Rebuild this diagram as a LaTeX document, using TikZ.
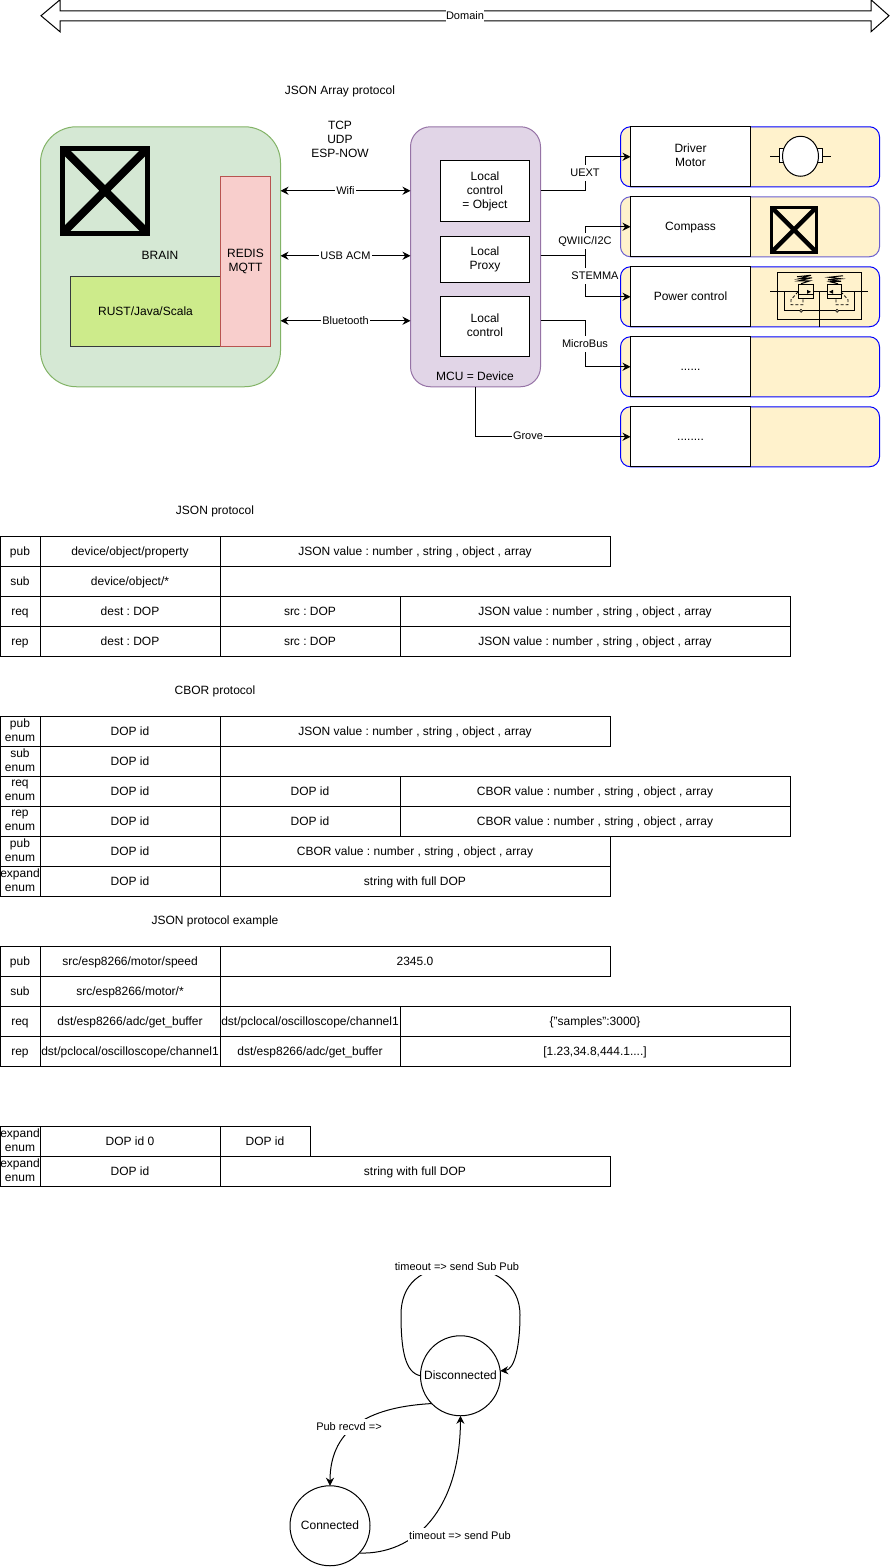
\documentclass[tikz,border=0pt]{standalone}
\usepackage{fontspec}
\setmainfont{Liberation Sans}
\usetikzlibrary{arrows.meta}
\definecolor{brainfill}{HTML}{D5E8D4}
\definecolor{braindraw}{HTML}{82B366}
\definecolor{redisfill}{HTML}{F8CECC}
\definecolor{redisdraw}{HTML}{B85450}
\definecolor{rustfill}{HTML}{CDEB8B}
\definecolor{rustdraw}{HTML}{36393D}
\definecolor{mcufill}{HTML}{E1D5E7}
\definecolor{mcudraw}{HTML}{9673A6}
\definecolor{modfill}{HTML}{FFF2CC}
\definecolor{compassdraw}{HTML}{6A5FD0}
\newcommand{\linestrut}{\vrule width 0pt height 11pt depth 3pt\relax}
\frenchspacing
\tikzset{
        every node/.style={font=\fontsize{12}{14}\selectfont, inner sep=0pt, outer sep=0pt, align=center, execute at begin node=\linestrut, execute at end node=\linestrut},
        cell/.style={draw, anchor=north west, minimum height=30, minimum width=#1},
        modbg/.style={draw=blue, fill=modfill, rounded corners=10, anchor=north west, minimum width=259, minimum height=60},
        modbox/.style={draw, fill=white, anchor=north west, minimum width=120, minimum height=60},
        localbox/.style={draw, fill=white, anchor=north west, minimum width=89},
        lbl/.style={fill=white, inner sep=1pt, font=\fontsize{11}{13}\selectfont},
        wire/.style={-{Stealth[length=8pt,width=8pt]}},
        wires/.style={{Stealth[length=8pt,width=8pt]}-{Stealth[length=8pt,width=8pt]}},
        state/.style={draw, circle, minimum size=80}
}
\begin{document}
\begin{tikzpicture}[x=1pt, y=-1pt, line width=1pt]
        \useasboundingbox (0,0.25) rectangle (891,1567.25);
        \draw (60,11) -- (60,0) -- (41,16) -- (60,32) -- (60,21) -- (871,21) -- (871,32) -- (889,16) -- (871,0) -- (871,11) -- cycle;
        \node[lbl, inner sep=0pt] (domain) at (465,16) {Domain};

        \node (arrayTitle) at (340,91) {JSON Array protocol};
        \node (transports) at (340,141) {TCP\\UDP\\ESP-NOW};

        \node[draw=braindraw, fill=brainfill, rounded corners=36, anchor=north west, minimum width=240, minimum height=260] (brain) at (40.5,127) {};
        \node (brainText) at (160,256) {BRAIN};
        \begin{scope}
                \clip (61,147) rectangle (149,235);
                \draw[line width=8pt] (60,146) -- (150,236) (150,146) -- (60,236);
        \end{scope}
        \draw[line width=5pt] (62.5,148.5) rectangle (147.5,233.5);
        \node[draw=rustdraw, fill=rustfill, anchor=north west, minimum width=150, minimum height=70] (rust) at (70.5,277) {RUST/Java/Scala};
        \node[draw=redisdraw, fill=redisfill, anchor=north west, minimum width=50, minimum height=170] (redis) at (220.5,177) {REDIS\\MQTT};

        \node[draw=mcudraw, fill=mcufill, rounded corners=20, anchor=north west, minimum width=130, minimum height=260] (mcu) at (410.5,127) {};
        \node (mcuText) at (475,377) {MCU = Device};
        \node[localbox, minimum height=61] (localObject) at (440.5,161) {Local\\control\\= Object};
        \node[localbox, minimum height=46] (localProxy) at (440.5,237) {Local\\Proxy};
        \node[localbox, minimum height=60] (localControl) at (440.5,297) {Local\\control};

        \node[modbg] (driverBg) at (620.5,127) {};
        \node[modbg, draw=compassdraw] (compassBg) at (620.5,197) {};
        \node[modbg] (powerBg) at (620.5,267) {};
        \node[modbg] (microBg) at (620.5,337) {};
        \node[modbg] (groveBg) at (620.5,407) {};
        \node[modbox] (driver) at (630.5,127) {Driver\\Motor};
        \node[modbox] (compass) at (630.5,197) {Compass};
        \node[modbox] (power) at (630.5,267) {Power control};
        \node[modbox] (micro) at (630.5,337) {......};
        \node[modbox] (grove) at (630.5,407) {........};

        \coordinate (wifiY) at (0,191);
        \coordinate (usbY) at (0,256);
        \coordinate (btY) at (0,321);
        \coordinate (busX) at (585,0);
        \draw[wires] (brain.east |- wifiY) -- node[lbl] (wifi) {Wifi} (mcu.west |- wifiY);
        \draw[wires] (brain.east |- usbY) -- node[lbl] (usb) {USB ACM} (mcu.west |- usbY);
        \draw[wires] (brain.east |- btY) -- node[lbl] (bt) {Bluetooth} (mcu.west |- btY);
        \draw[wire] (mcu.east |- wifiY) -- (busX |- wifiY) -- (busX |- driver.west) -- (driver.west);
        \draw[wire] (mcu.east |- usbY) -- (busX |- usbY) -- (busX |- compass.west) -- (compass.west);
        \draw[wire] (mcu.east |- usbY) -- (busX |- usbY) -- (busX |- power.west) -- (power.west);
        \draw[wire] (mcu.east |- btY) -- (busX |- btY) -- (busX |- micro.west) -- (micro.west);
        \coordinate (groveStart) at (475.5,387);
        \draw[wire] (groveStart) -- (groveStart |- grove.west) -- (grove.west);
        \node[lbl] (uext) at (585,173) {UEXT};
        \node[lbl] (qwiic) at (585,241) {QWIIC/I2C};
        \node[lbl] (stemma) at (595,276) {STEMMA};
        \node[lbl] (microbus) at (585,344) {MicroBus};
        \node[lbl] (groveText) at (528,436) {Grove};

        \draw (770,156.5) -- (779,156.5) (822,156.5) -- (831,156.5);
        \draw[fill=white] (779,149) rectangle (783.5,163) (817.5,149) rectangle (822,163);
        \draw[fill=white] (800.5,156.5) ellipse [x radius=18, y radius=20];

        \begin{scope}
                \clip (771,207) rectangle (817,253);
                \draw[line width=4.5pt] (770,206) -- (818,254) (818,206) -- (770,254);
        \end{scope}
        \draw[line width=3pt] (771.5,207.5) rectangle (816.5,252.5);

        \draw[line width=.8pt] (777,273) rectangle (861,320);
        \draw (770,291.5) -- (868,291.5) (819,291.5) -- (819,327);
        \draw (784,291.5) -- (784,311) -- (854,311) -- (854,291.5);
        \draw[fill=modfill] (798,285) rectangle (813,299) (827,285) rectangle (841,299);
        \draw[line width=1.2pt] (798,295) -- (813,295) (827,295) -- (841,295);
        \fill (811,292) -- (807,290) -- (807,294) -- cycle (829,292) -- (833,290) -- (833,294) -- cycle;
        \draw[densely dashed, line width=.8pt] (798,292) -- (791,300) -- (791,305) -- (803,305) -- (803,299) (841,292) -- (848,300) -- (848,305) -- (836,305) -- (836,299);
        \draw[line width=1pt] (797,277) -- (811,275.5) -- (799,279) -- (812,278) -- (799,281) -- (810,281) -- (801,284) (843,276) -- (829,277.5) -- (841,279) -- (828,280) -- (841,281.5) -- (830,282) -- (838,284);
        \draw[fill=modfill, line width=.7pt] (801,311) circle (1.5) (837,311) circle (1.5);

        \node (jsonTitle) at (215,511) {JSON protocol};
        \node[cell=40] (jPubA) at (0,537) {pub};
        \node[cell=180] (jPubB) at (40,537) {device/object/property};
        \node[cell=390] (jPubC) at (220,537) {JSON value : number , string , object , array};
        \node[cell=40] (jSubA) at (0,567) {sub};
        \node[cell=180] (jSubB) at (40,567) {device/object/*};
        \node[cell=40] (jReqA) at (0,597) {req};
        \node[cell=180] (jReqB) at (40,597) {dest : DOP};
        \node[cell=180] (jReqC) at (220,597) {src : DOP};
        \node[cell=390] (jReqD) at (400,597) {JSON value : number , string , object , array};
        \node[cell=40] (jRepA) at (0,627) {rep};
        \node[cell=180] (jRepB) at (40,627) {dest : DOP};
        \node[cell=180] (jRepC) at (220,627) {src : DOP};
        \node[cell=390] (jRepD) at (400,627) {JSON value : number , string , object , array};

        \node (cborTitle) at (215,691) {CBOR protocol};
        \node[cell=40] (cPubA) at (0,717) {pub\\enum};
        \node[cell=180] (cPubB) at (40,717) {DOP id};
        \node[cell=390] (cPubC) at (220,717) {JSON value : number , string , object , array};
        \node[cell=40] (cSubA) at (0,747) {sub\\enum};
        \node[cell=180] (cSubB) at (40,747) {DOP id};
        \node[cell=40] (cReqA) at (0,777) {req\\enum};
        \node[cell=180] (cReqB) at (40,777) {DOP id};
        \node[cell=180] (cReqC) at (220,777) {DOP id};
        \node[cell=390] (cReqD) at (400,777) {CBOR value : number , string , object , array};
        \node[cell=40] (cRepA) at (0,807) {rep\\enum};
        \node[cell=180] (cRepB) at (40,807) {DOP id};
        \node[cell=180] (cRepC) at (220,807) {DOP id};
        \node[cell=390] (cRepD) at (400,807) {CBOR value : number , string , object , array};
        \node[cell=40] (cPub2A) at (0,837) {pub\\enum};
        \node[cell=180] (cPub2B) at (40,837) {DOP id};
        \node[cell=390] (cPub2C) at (220,837) {CBOR value : number , string , object , array};
        \node[cell=40] (cExpA) at (0,867) {expand\\enum};
        \node[cell=180] (cExpB) at (40,867) {DOP id};
        \node[cell=390] (cExpC) at (220,867) {string with full DOP};

        \node (exampleTitle) at (215,921) {JSON protocol example};
        \node[cell=40] (ePubA) at (0,947) {pub};
        \node[cell=180] (ePubB) at (40,947) {src/esp8266/motor/speed};
        \node[cell=390] (ePubC) at (220,947) {2345.0};
        \node[cell=40] (eSubA) at (0,977) {sub};
        \node[cell=180] (eSubB) at (40,977) {src/esp8266/motor/*};
        \node[cell=40] (eReqA) at (0,1007) {req};
        \node[cell=180] (eReqB) at (40,1007) {dst/esp8266/adc/get\_buffer};
        \node[cell=180] (eReqC) at (220,1007) {dst/pclocal/oscilloscope/channel1};
        \node[cell=390] (eReqD) at (400,1007) {\{"samples":3000\}};
        \node[cell=40] (eRepA) at (0,1037) {rep};
        \node[cell=180] (eRepB) at (40,1037) {dst/pclocal/oscilloscope/channel1};
        \node[cell=180] (eRepC) at (220,1037) {dst/esp8266/adc/get\_buffer};
        \node[cell=390] (eRepD) at (400,1037) {[1.23,34.8,444.1....]};

        \node[cell=40] (xExpA) at (0,1127) {expand\\enum};
        \node[cell=180] (xExpB) at (40,1127) {DOP id 0};
        \node[cell=90] (xExpC) at (220,1127) {DOP id};
        \node[cell=40] (yExpA) at (0,1157) {expand\\enum};
        \node[cell=180] (yExpB) at (40,1157) {DOP id};
        \node[cell=390] (yExpC) at (220,1157) {string with full DOP};

        \node[state] (disc) at (460.5,1376) {Disconnected};
        \node[state] (conn) at (330,1526) {Connected};
        \draw[wire] (disc.west) .. controls (405,1373) and (401,1350) .. (401,1315) .. controls (401,1285) and (420,1267) .. (457,1267) .. controls (495,1267) and (520,1285) .. (520,1315) .. controls (520,1345) and (515,1370) .. (disc.7);
        \draw[wire] (disc.224) .. controls (375,1407) and (330,1425) .. (conn.north);
        \draw[wire] (conn.-43) .. controls (415,1555) and (460,1510) .. (disc.south);
        \node[lbl] (loopText) at (457,1267) {timeout => send Sub Pub};
        \node[lbl] (recvText) at (349,1427) {Pub recvd =>};
        \node[lbl] (pubText) at (460,1536) {timeout => send Pub};
\end{tikzpicture}
\end{document}
